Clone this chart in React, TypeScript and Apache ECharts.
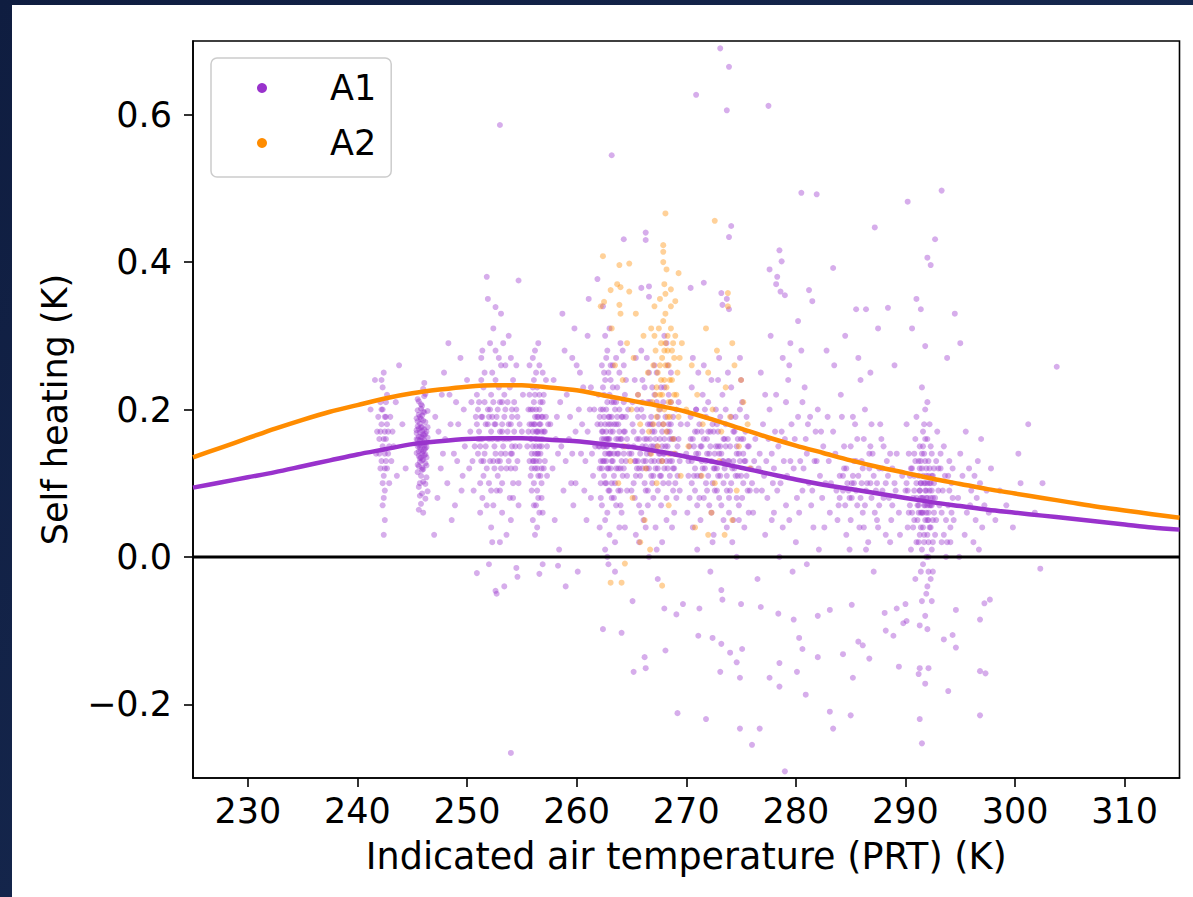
import React, { useEffect, useRef } from 'react';
import * as echarts from 'echarts';

const X_MIN = 225;
const X_MAX = 315;
const Y_MIN = -0.3;
const Y_MAX = 0.7;
const xTicks = [230, 240, 250, 260, 270, 280, 290, 300, 310];
const yTicks = [-0.2, 0, 0.2, 0.4, 0.6];
const X_NAME = 'Indicated air temperature (PRT) (K)';
const Y_NAME = 'Self heating (K)';

// fitted curves read at 2.5 K steps
const fitTemps = [225, 227.5, 230, 232.5, 235, 237.5, 240, 242.5, 245, 247.5, 250, 252.5, 255, 257.5, 260, 262.5, 265, 267.5, 270, 272.5, 275, 277.5, 280, 282.5, 285, 287.5, 290, 292.5, 295, 297.5, 300, 302.5, 305, 307.5, 310, 312.5, 315];
const a1Fit = [0.094, 0.101, 0.108, 0.115, 0.123, 0.131, 0.139, 0.146, 0.153, 0.157, 0.160, 0.161, 0.161, 0.159, 0.157, 0.153, 0.149, 0.143, 0.136, 0.129, 0.121, 0.113, 0.105, 0.098, 0.092, 0.086, 0.080, 0.074, 0.069, 0.064, 0.060, 0.056, 0.052, 0.048, 0.044, 0.040, 0.037];
const a2Fit = [0.135, 0.148, 0.161, 0.174, 0.186, 0.197, 0.206, 0.215, 0.222, 0.227, 0.231, 0.233, 0.233, 0.230, 0.226, 0.219, 0.212, 0.205, 0.197, 0.186, 0.174, 0.162, 0.151, 0.141, 0.131, 0.122, 0.114, 0.106, 0.099, 0.092, 0.086, 0.080, 0.074, 0.068, 0.063, 0.058, 0.053];

// A1 scatter, grouped by temperature band
const a1Band242: number[][] = [[242.1,0.17],[242.3,0.15],[242.5,0.19],[242.2,0.13],[242.6,0.21],[242.4,0.11],[242.0,0.16],[242.7,0.18],[242.3,0.23],[242.5,0.09],[242.2,0.20],[242.8,0.14],[242.4,0.25],[242.1,0.12],[242.6,0.16],[243.0,0.19],[242.9,0.10],[242.3,0.07],[242.5,0.14],[242.7,0.22],[241.6,0.24],[241.8,0.17],[243.3,0.15],[243.5,0.21],[244.1,0.18],[244.4,0.12],[243.8,0.26],[241.2,0.20],[242.5,0.05],[242.4,0.03],[242.0,0.14],[242.2,0.18],[242.4,0.16],[242.6,0.13],[242.8,0.17],[242.1,0.21],[242.3,0.10],[242.5,0.17],[242.7,0.12],[242.9,0.15],[242.2,0.24],[242.4,0.08],[242.6,0.19],[243.1,0.13],[241.9,0.19],[242.3,0.20],[242.5,0.12],[243.2,0.17],[241.7,0.14],[243.6,0.11]];
const a1Band246: number[][] = [[245.6,0.152],[245.9,0.171],[246.1,0.138],[245.4,0.160],[245.8,0.145],[246.2,0.183],[245.7,0.129],[246.0,0.166],[245.5,0.177],[246.3,0.149],[245.9,0.121],[245.6,0.193],[246.1,0.158],[245.8,0.187],[245.4,0.141],[246.0,0.132],[245.7,0.169],[246.4,0.162],[245.5,0.115],[245.9,0.205],[246.2,0.127],[245.6,0.174],[245.8,0.110],[246.1,0.196],[245.7,0.148],[246.0,0.102],[245.5,0.214],[246.3,0.135],[245.9,0.157],[245.6,0.095],[246.2,0.221],[245.8,0.163],[245.4,0.188],[246.0,0.143],[245.7,0.083],[246.1,0.236],[245.9,0.176],[245.5,0.125],[246.4,0.198],[245.8,0.072],[246.0,0.154],[245.6,0.137],[246.2,0.167],[245.7,0.181],[245.9,0.118],[246.1,0.146],[245.5,0.159],[245.8,0.201],[246.3,0.108],[245.6,0.064],[246.0,0.228],[245.7,0.134],[245.9,0.192],[246.4,0.089],[245.8,0.151],[246.1,0.173],[245.6,0.211],[246.2,0.099],[245.4,0.168],[245.9,0.140],[245.5,0.150],[245.7,0.158],[245.9,0.162],[246.1,0.151],[246.3,0.170],[245.6,0.143],[245.8,0.176],[246.0,0.185],[246.2,0.139],[245.4,0.172],[245.9,0.131],[246.1,0.165],[245.7,0.190],[246.3,0.155],[245.6,0.123],[246.0,0.119],[245.8,0.207],[246.2,0.147],[245.5,0.184],[246.4,0.176],[245.7,0.100],[246.0,0.197],[245.9,0.086],[246.1,0.218],[245.6,0.163],[246.2,0.079],[245.8,0.135],[246.3,0.124],[245.5,0.199],[246.0,0.060]];
const a1Band248: number[][] = [[247.1,0.19],[247.6,0.12],[248.0,0.16],[248.4,0.22],[247.3,0.08],[248.8,0.14],[249.2,0.18],[249.6,0.11],[247.9,0.25],[248.6,0.05],[249.0,0.21],[249.8,0.15],[247.4,0.17],[248.2,0.10],[249.4,0.27],[247.8,0.14],[248.9,0.07],[249.7,0.20],[250.0,0.24],[248.5,0.18],[247.0,0.03],[249.1,0.13],[248.3,0.29],[247.7,0.22],[249.5,0.09]];
const a1Band252: number[][] = [[251.2,0.16],[251.4,0.19],[251.3,0.13],[251.6,0.21],[251.1,0.17],[251.5,0.11],[251.3,0.24],[251.2,0.15],[251.7,0.18],[251.4,0.08],[251.0,0.20],[251.3,0.27],[251.6,0.14],[251.2,0.06],[251.5,0.23],[252.2,0.17],[252.4,0.13],[252.1,0.20],[252.5,0.15],[252.3,0.25],[252.0,0.10],[252.6,0.18],[252.2,0.22],[252.4,0.07],[252.3,0.16],[252.1,0.29],[252.5,0.12],[252.7,0.19],[252.2,0.04],[252.4,0.31],[252.9,0.16],[253.1,0.14],[253.0,0.21],[253.2,0.18],[252.8,0.11],[253.1,0.26],[253.3,0.15],[253.0,0.09],[252.9,0.23],[253.2,0.17],[253.0,0.02],[253.1,0.33],[253.4,0.19],[252.8,0.13],[253.2,0.06],[253.9,0.16],[254.1,0.20],[254.0,0.12],[253.8,0.18],[254.2,0.24],[254.1,0.14],[253.9,0.08],[254.3,0.17],[254.0,0.27],[254.2,0.10],[253.7,0.21],[254.4,0.15],[254.0,0.05],[254.1,0.19],[253.8,0.30],[250.7,0.15],[250.9,0.22],[251.8,0.12],[252.6,0.28],[253.5,0.20],[254.6,0.13],[254.8,0.18],[250.6,0.09],[251.9,0.35],[253.6,0.03],[252.0,-0.01],[253.4,-0.04],[251.8,0.38],[254.5,0.26],[252.7,0.09],[253.6,0.12],[251.9,0.18],[250.8,0.19],[254.7,0.07],[253.3,0.29],[250.3,0.17],[250.5,0.13],[250.9,0.18],[251.0,0.14],[251.1,0.21],[251.4,0.16],[251.5,0.13],[251.7,0.15],[251.9,0.20],[252.0,0.16],[252.1,0.13],[252.3,0.19],[252.4,0.21],[252.6,0.14],[252.7,0.16],[252.8,0.20],[253.0,0.17],[253.1,0.12],[253.3,0.16],[253.4,0.22],[253.5,0.14],[253.7,0.17],[253.8,0.13],[254.0,0.18],[254.1,0.15],[254.3,0.21],[254.4,0.12],[254.6,0.19],[254.8,0.15],[255.0,0.17],[251.2,0.10],[251.6,0.25],[252.2,0.09],[252.9,0.27],[253.2,0.10],[253.9,0.23],[254.2,0.08],[251.3,0.19],[252.5,0.18],[253.6,0.16],[254.5,0.20],[250.4,0.21],[251.8,0.07],[252.6,0.24],[253.0,0.13],[254.0,0.14],[251.4,0.28],[252.3,0.02],[253.5,0.26],[254.7,0.10],[250.2,0.12],[255.1,0.22],[252.0,0.19],[253.2,0.21],[251.0,0.16]];
const a1Band256: number[][] = [[255.8,0.16],[256.1,0.18],[256.4,0.14],[256.0,0.20],[256.6,0.15],[255.9,0.12],[256.3,0.17],[256.8,0.19],[256.2,0.22],[255.7,0.13],[256.5,0.11],[256.9,0.16],[256.1,0.24],[256.4,0.09],[256.7,0.21],[255.9,0.18],[256.2,0.14],[256.6,0.26],[256.3,0.07],[257.0,0.17],[256.0,0.15],[256.5,0.19],[256.8,0.12],[256.1,0.10],[256.4,0.23],[255.8,0.20],[256.7,0.16],[257.1,0.13],[256.2,0.18],[256.9,0.21],[256.3,0.16],[255.6,0.17],[256.6,0.06],[256.0,0.27],[256.5,0.14],[257.2,0.19],[256.1,0.13],[256.8,0.08],[256.4,0.17],[255.7,0.22],[256.2,0.03],[256.9,0.25],[256.3,0.20],[256.7,0.11],[257.3,0.15],[256.0,0.05],[256.5,0.29],[256.2,0.16],[255.9,0.09],[256.6,0.18],[255.5,0.15],[255.7,0.18],[255.9,0.14],[256.0,0.17],[256.1,0.21],[256.2,0.12],[256.3,0.15],[256.4,0.19],[256.5,0.16],[256.6,0.13],[256.7,0.18],[256.8,0.15],[256.9,0.19],[257.0,0.12],[257.1,0.17],[255.8,0.11],[256.0,0.23],[256.2,0.19],[256.4,0.12],[256.6,0.20],[256.8,0.10],[257.0,0.22],[255.6,0.20],[256.1,0.07],[256.3,0.25],[256.5,0.08],[256.7,0.14],[256.9,0.06],[257.2,0.24],[257.4,0.18],[256.2,0.28],[255.9,0.16],[256.5,0.17],[256.3,0.13],[256.8,0.17],[256.0,0.13],[257.3,0.11],[256.6,0.22],[256.4,0.04],[255.7,0.26]];
const a1Band259: number[][] = [[257.8,0.12],[258.2,0.19],[258.6,0.15],[259.1,0.22],[259.5,0.10],[259.9,0.17],[260.3,0.25],[260.8,0.13],[261.2,0.20],[258.0,0.05],[258.9,0.28],[259.7,0.07],[260.5,0.18],[261.0,0.30],[261.4,0.14],[258.4,0.01],[259.3,0.16],[260.1,-0.02],[260.7,0.09],[261.3,0.23],[257.9,0.24],[258.7,0.33],[259.6,0.27],[260.9,0.05],[261.5,0.11],[258.3,0.14],[260.2,0.20],[259.0,-0.04],[261.1,0.35],[259.8,0.31],[258.1,0.16],[258.5,0.21],[259.0,0.13],[259.4,0.19],[259.9,0.10],[260.4,0.14],[260.6,0.23],[261.0,0.17],[261.3,0.08],[261.6,0.20],[258.8,0.09],[259.6,0.14],[260.0,0.26],[261.7,0.15],[257.6,0.18]];
const a1Band263: number[][] = [[262.3,0.16],[262.6,0.14],[262.9,0.18],[263.1,0.12],[262.4,0.20],[262.8,0.15],[263.3,0.17],[262.5,0.11],[263.0,0.22],[262.7,0.13],[262.2,0.18],[263.4,0.15],[262.9,0.09],[262.6,0.24],[263.2,0.19],[262.4,0.13],[262.8,0.21],[263.5,0.10],[262.3,0.07],[263.1,0.26],[262.7,0.16],[262.5,0.19],[263.0,0.14],[262.9,0.12],[263.6,0.18],[262.1,0.15],[262.6,0.05],[263.3,0.23],[262.8,0.28],[263.2,0.08],[262.4,0.17],[263.7,0.14],[262.7,0.20],[263.0,0.03],[262.5,0.25],[263.4,0.11],[262.9,0.16],[262.2,0.10],[263.1,0.18],[262.6,0.30],[263.8,0.16],[264.1,0.13],[263.9,0.20],[264.3,0.17],[264.0,0.09],[264.4,0.22],[263.8,0.12],[264.2,0.15],[264.5,0.19],[264.1,0.06],[262.8,0.00],[263.5,-0.02],[262.4,0.34],[263.6,0.27],[264.3,0.26],[262.0,0.22],[262.3,0.26],[263.9,0.04],[264.6,0.11],[263.2,0.13],[262.5,0.15],[263.0,0.19],[262.7,0.10],[263.4,0.21],[262.9,0.25],[261.9,0.18],[264.0,0.16],[263.6,0.07],[262.1,0.12],[264.2,0.28],[262.0,0.15],[262.1,0.19],[262.2,0.13],[262.3,0.17],[262.4,0.15],[262.5,0.13],[262.6,0.18],[262.7,0.15],[262.8,0.12],[262.9,0.19],[263.0,0.16],[263.1,0.14],[263.2,0.21],[263.3,0.13],[263.4,0.18],[263.5,0.15],[263.6,0.12],[263.7,0.19],[263.8,0.14],[263.9,0.17],[264.0,0.12],[264.1,0.19],[264.2,0.11],[264.3,0.14],[264.4,0.17],[264.5,0.13],[264.6,0.16],[264.7,0.20],[264.8,0.14],[262.2,0.08],[262.5,0.22],[262.8,0.06],[263.1,0.24],[263.4,0.08],[263.7,0.23],[264.0,0.07],[264.3,0.21],[264.6,0.09],[262.3,0.12],[262.6,0.10],[262.9,0.14],[263.2,0.10],[263.5,0.20],[263.8,0.09],[264.1,0.16],[264.4,0.04],[262.4,0.23],[262.7,0.27],[263.0,0.09],[263.3,0.26],[263.6,0.16],[263.9,0.25],[264.2,0.19],[264.5,0.24],[262.1,0.04],[262.6,0.01],[263.0,0.31],[263.5,0.02],[264.0,0.29],[262.9,-0.01],[263.4,0.14],[262.7,0.17],[263.8,0.18],[262.5,0.16],[264.3,0.12],[263.1,0.17],[262.8,0.16],[263.6,0.21],[264.7,0.15],[262.2,0.20]];
const a1Band267: number[][] = [[265.2,0.15],[265.6,0.13],[266.0,0.17],[266.4,0.14],[266.8,0.19],[267.2,0.12],[267.6,0.16],[268.0,0.14],[268.4,0.18],[265.4,0.11],[265.9,0.20],[266.3,0.09],[266.7,0.16],[267.1,0.22],[267.5,0.13],[267.9,0.10],[268.3,0.15],[268.8,0.12],[265.1,0.18],[265.7,0.07],[266.2,0.23],[266.6,0.12],[267.0,0.15],[267.4,0.19],[267.8,0.17],[268.2,0.08],[268.6,0.21],[269.0,0.14],[265.3,0.24],[265.8,0.14],[266.1,0.05],[266.5,0.18],[266.9,0.10],[267.3,0.25],[267.7,0.11],[268.1,0.19],[268.5,0.13],[268.9,0.06],[269.3,0.16],[265.5,0.16],[266.0,0.12],[266.4,0.27],[266.8,0.13],[267.2,0.04],[267.6,0.20],[268.0,0.23],[268.4,0.10],[268.7,0.16],[269.1,0.20],[265.0,0.09],[265.6,0.19],[266.2,0.16],[266.7,0.21],[267.0,0.08],[267.5,0.14],[267.9,0.18],[268.3,0.26],[268.8,0.09],[269.2,0.11],[265.4,0.03],[266.3,0.15],[267.1,0.17],[267.8,0.02],[268.5,0.17],[269.4,0.13],[266.6,0.00],[267.4,-0.03],[265.9,0.28],[268.2,0.29],[266.0,0.21],[267.3,0.15],[268.6,0.14],[265.7,0.12],[266.9,0.17],[268.0,0.12],[265.3,0.13],[269.5,0.18],[266.5,0.09],[267.7,0.23],[265.0,0.14],[265.2,0.17],[265.4,0.13],[265.5,0.20],[265.7,0.16],[265.8,0.11],[266.0,0.15],[266.1,0.19],[266.3,0.13],[266.4,0.16],[266.5,0.21],[266.7,0.14],[266.8,0.11],[266.9,0.18],[267.1,0.13],[267.2,0.16],[267.4,0.12],[267.5,0.18],[267.6,0.14],[267.8,0.15],[267.9,0.21],[268.0,0.16],[268.2,0.13],[268.3,0.17],[268.5,0.11],[268.6,0.18],[268.7,0.13],[268.9,0.16],[269.0,0.10],[269.2,0.15],[265.3,0.08],[265.6,0.22],[265.9,0.06],[266.2,0.10],[266.6,0.25],[267.0,0.11],[267.3,0.21],[267.7,0.07],[268.1,0.15],[268.4,0.22],[268.8,0.19],[269.1,0.08],[265.1,0.21],[265.5,0.12],[266.0,0.24],[266.3,0.04],[266.7,0.18],[267.1,0.26],[267.4,0.09],[267.8,0.13],[268.2,0.05],[268.6,0.25],[268.9,0.12],[269.3,0.21],[265.4,0.27],[266.1,0.13],[266.8,0.15],[267.6,0.11],[268.3,0.12],[269.4,0.09],[265.7,0.02],[266.5,0.07],[267.3,0.01],[268.0,0.30],[268.7,0.04],[265.2,0.10],[266.9,0.23],[267.9,0.14],[268.5,0.16],[266.4,0.12]];
const a1Band273: number[][] = [[270.2,0.13],[270.6,0.16],[271.0,0.11],[271.4,0.15],[271.8,0.13],[272.2,0.17],[272.6,0.12],[273.0,0.14],[273.4,0.10],[273.8,0.16],[274.2,0.12],[274.6,0.14],[275.0,0.11],[275.4,0.13],[270.4,0.19],[270.8,0.09],[271.2,0.18],[271.6,0.08],[272.0,0.21],[272.4,0.10],[272.8,0.18],[273.2,0.07],[273.6,0.20],[274.0,0.09],[274.4,0.17],[274.8,0.07],[275.2,0.16],[275.6,0.09],[270.1,0.06],[270.5,0.23],[270.9,0.14],[271.3,0.05],[271.7,0.20],[272.1,0.14],[272.5,0.03],[272.9,0.24],[273.3,0.13],[273.7,0.04],[274.1,0.19],[274.5,0.11],[274.9,0.20],[275.3,0.04],[275.7,0.15],[270.3,0.15],[270.7,0.11],[271.1,0.25],[271.5,0.12],[271.9,0.16],[272.3,0.06],[272.7,0.15],[273.1,0.19],[273.5,0.12],[273.9,0.13],[274.3,0.05],[274.7,0.16],[275.1,0.08],[275.5,0.19],[275.9,0.12],[271.0,0.01],[272.2,-0.02],[273.0,0.27],[274.1,0.23],[275.0,0.24],[270.6,0.27],[272.6,0.09],[273.4,0.16],[271.8,0.10],[274.6,0.00],[276.0,0.10],[276.3,0.16],[276.1,0.06],[271.4,0.17],[272.9,0.11],[273.9,0.08],[272.4,0.18],[270.9,0.20],[274.8,0.14],[273.6,0.15],[270.0,0.14],[270.2,0.11],[270.4,0.16],[270.5,0.13],[270.7,0.15],[270.8,0.12],[271.0,0.17],[271.1,0.14],[271.3,0.11],[271.4,0.13],[271.6,0.16],[271.7,0.12],[271.9,0.14],[272.0,0.11],[272.2,0.15],[272.3,0.13],[272.5,0.17],[272.6,0.14],[272.8,0.12],[272.9,0.15],[273.1,0.11],[273.2,0.14],[273.4,0.13],[273.5,0.16],[273.7,0.11],[273.8,0.13],[274.0,0.15],[274.1,0.10],[274.3,0.13],[274.4,0.12],[274.6,0.15],[274.7,0.11],[274.9,0.13],[275.0,0.16],[275.2,0.10],[275.3,0.13],[275.5,0.11],[275.6,0.15],[275.8,0.09],[270.3,0.08],[270.9,0.20],[271.2,0.08],[271.8,0.19],[272.1,0.07],[272.7,0.20],[273.0,0.08],[273.6,0.18],[273.9,0.06],[274.5,0.19],[274.8,0.05],[275.4,0.17],[270.6,0.04],[271.5,0.22],[272.4,0.02],[273.3,0.22],[274.2,0.02],[275.1,0.21],[270.1,0.18],[271.0,0.07],[271.9,0.09],[272.8,0.09],[273.7,0.09],[274.6,0.08],[275.7,0.06],[270.5,0.10],[271.3,0.15],[272.0,0.17],[272.9,0.17],[273.4,0.05],[274.3,0.17],[275.2,0.14],[276.2,0.13],[276.4,0.09],[271.6,0.26],[272.3,0.24],[273.8,0.25],[274.9,0.27],[270.8,0.17],[272.5,0.12],[273.1,0.15]];
const a1Band279: number[][] = [[276.6,0.12],[277.0,0.18],[277.4,0.08],[277.8,0.14],[278.2,0.22],[278.6,0.10],[279.0,0.16],[279.4,0.05],[279.8,0.12],[280.2,0.19],[280.6,0.09],[281.0,0.14],[281.4,0.07],[281.8,0.17],[282.2,0.11],[276.8,0.25],[277.2,0.03],[277.6,0.20],[278.0,0.06],[278.4,0.15],[278.8,0.27],[279.2,0.11],[279.6,0.18],[280.0,0.02],[280.4,0.13],[280.8,0.23],[281.2,0.10],[281.6,0.04],[282.0,0.20],[282.4,0.08],[276.9,0.09],[277.7,0.30],[278.5,0.00],[279.3,0.24],[280.1,0.08],[280.9,0.16],[281.7,0.13],[282.5,0.15],[277.3,0.13],[278.1,0.17],[279.7,-0.02],[280.5,0.28],[281.3,0.19],[276.5,-0.03],[278.9,0.13],[282.6,0.04],[279.1,0.21],[277.9,0.10],[276.7,0.14],[277.1,0.11],[277.5,0.16],[278.0,0.12],[278.3,0.09],[278.7,0.17],[279.1,0.07],[279.5,0.13],[279.9,0.16],[280.3,0.06],[280.7,0.12],[281.1,0.18],[281.5,0.09],[281.9,0.13],[282.3,0.17],[282.7,0.10],[283.1,0.06],[277.2,0.22],[278.8,0.04],[280.6,0.21],[282.1,0.01],[279.4,0.26],[281.0,-0.01],[277.8,0.05],[282.9,0.19]];
const a1Band286: number[][] = [[283.2,0.10],[283.6,0.14],[284.0,0.08],[284.4,0.12],[284.8,0.09],[285.2,0.11],[285.6,0.07],[286.0,0.13],[286.4,0.09],[286.8,0.10],[287.2,0.06],[287.6,0.12],[288.0,0.08],[288.4,0.11],[288.8,0.07],[283.4,0.17],[283.8,0.05],[284.2,0.19],[284.6,0.03],[285.0,0.15],[285.4,0.18],[285.8,0.04],[286.2,0.16],[286.6,0.02],[287.0,0.14],[287.4,0.10],[287.8,0.16],[288.2,0.03],[288.6,0.14],[289.0,0.10],[283.0,0.13],[284.1,0.22],[285.1,0.08],[285.5,0.13],[286.1,0.06],[286.9,0.18],[287.5,0.04],[288.3,0.13],[284.9,0.01],[286.3,0.20],[287.9,0.09],[283.7,0.09],[285.3,0.10],[284.5,0.07],[286.7,0.12],[288.7,0.05],[285.9,0.24],[287.1,-0.02],[283.5,0.26],[284.3,0.11],[284.0,0.11],[284.3,0.09],[284.6,0.12],[284.9,0.08],[285.1,0.10],[285.3,0.13],[285.5,0.09],[285.7,0.11],[285.9,0.08],[286.1,0.12],[286.3,0.07],[286.5,0.10],[286.7,0.14],[286.9,0.08],[287.1,0.11],[287.3,0.09],[287.6,0.07],[287.9,0.12],[288.2,0.10],[288.5,0.08],[288.8,0.12],[289.1,0.09],[289.4,0.06],[289.7,0.11],[284.4,0.15],[285.0,0.05],[285.6,0.16],[286.2,0.04],[286.8,0.15],[287.4,0.05],[288.0,0.15],[288.6,0.02],[289.2,0.14],[283.9,0.07],[285.2,0.19],[286.4,0.01],[287.7,0.18],[289.5,0.03],[284.7,0.10],[286.0,0.10]];
const a1Band292: number[][] = [[290.0,0.09],[290.4,0.07],[290.8,0.11],[291.2,0.06],[291.6,0.08],[292.0,0.05],[292.4,0.09],[291.8,0.07],[291.4,0.10],[292.2,0.04],[291.0,0.08],[291.9,0.12],[292.1,0.02],[291.5,0.14],[292.3,0.07],[291.7,0.03],[291.3,0.09],[292.5,0.11],[291.1,0.05],[291.9,0.00],[292.0,0.08],[291.6,0.15],[292.2,0.10],[291.4,0.04],[291.8,0.13],[290.6,0.12],[290.2,0.04],[290.9,0.16],[291.2,0.02],[292.6,0.06],[292.8,0.13],[292.1,-0.02],[291.7,0.18],[291.5,0.06],[292.4,0.01],[291.9,0.09],[291.3,0.12],[292.0,-0.04],[291.8,0.20],[290.7,0.08],[290.3,0.14],[292.7,0.03],[293.0,0.09],[293.3,0.06],[293.6,0.11],[293.9,0.07],[294.1,0.04],[294.2,0.10],[294.0,0.13],[293.8,0.02],[294.3,0.08],[293.5,0.15],[292.9,0.17],[290.5,0.01],[291.0,0.19],[291.6,-0.01],[292.3,0.15],[290.1,0.18],[291.9,0.06],[292.1,0.11],[291.4,0.08],[292.5,0.05],[291.7,0.10],[291.2,0.13],[292.2,0.07],[290.8,0.05],[293.2,0.12],[294.4,0.05],[291.5,0.23],[292.0,0.21],[292.4,-0.06],[291.8,-0.08],[290.9,-0.03],[293.7,0.00],[291.2,0.07],[291.3,0.09],[291.4,0.06],[291.5,0.08],[291.6,0.11],[291.7,0.07],[291.8,0.05],[291.9,0.08],[292.0,0.10],[292.1,0.06],[292.2,0.09],[292.3,0.04],[292.4,0.07],[292.5,0.08],[292.6,0.10],[291.3,0.03],[291.5,0.12],[291.7,0.02],[291.9,0.11],[292.1,0.13],[292.3,0.10],[292.5,0.02],[291.4,0.13],[291.6,0.04],[291.8,0.10],[292.0,0.03],[292.2,0.12],[292.4,0.11],[291.2,0.11],[291.5,0.01],[291.8,0.16],[292.1,0.00],[292.4,0.14],[292.7,0.08],[291.1,0.07],[291.4,-0.02],[291.7,0.14],[292.0,0.16],[292.3,-0.03],[292.6,0.12],[290.2,0.09],[290.4,0.11],[290.6,0.06],[290.8,0.09],[291.0,0.10],[290.3,0.06],[290.5,0.12],[290.7,0.04],[290.9,0.13],[293.1,0.07],[293.4,0.09],[293.7,0.05],[294.0,0.09],[294.2,0.06],[293.9,0.11],[294.1,0.02],[293.5,0.03],[293.2,0.14],[291.6,0.17],[292.2,0.18],[291.9,-0.05],[292.5,-0.02],[291.0,0.02],[291.3,0.15],[292.8,0.05],[290.1,0.10],[293.0,0.12],[291.6,0.06],[292.0,0.07],[291.8,0.09],[292.3,0.08],[291.4,0.10],[292.1,0.05],[290.8,0.14],[293.3,0.02],[294.3,0.12]];
const a1Band296: number[][] = [[294.8,0.08],[295.2,0.11],[295.6,0.06],[296.0,0.09],[296.4,0.05],[296.8,0.10],[297.2,0.07],[295.0,0.14],[295.4,0.03],[295.8,0.12],[296.2,0.02],[296.6,0.13],[297.0,0.04],[297.4,0.09],[294.9,0.00],[296.5,0.08],[296.9,0.16],[297.6,0.06],[295.5,0.17],[296.3,0.11],[297.8,0.12],[298.2,0.05],[298.6,0.09],[299.2,0.07],[300.5,0.10],[301.8,0.06],[296.7,0.01],[295.9,0.07],[303.8,0.258],[300.3,0.14],[301.2,0.18],[299.8,0.04],[302.5,0.10]];
const a1High: number[][] = [[273.1,0.69],[273.9,0.665],[270.9,0.627],[273.7,0.606],[277.5,0.612],[253.0,0.586],[263.2,0.545],[280.5,0.494],[281.9,0.492],[293.3,0.497],[290.2,0.482],[287.2,0.447],[292.7,0.431],[292.0,0.406],[292.3,0.396],[274.1,0.449],[273.9,0.434],[278.5,0.416],[278.7,0.401],[277.6,0.39],[278.3,0.38],[278.2,0.37],[278.6,0.36],[279.0,0.355],[283.4,0.392],[281.2,0.362],[291.0,0.35],[266.3,0.44],[266.3,0.43],[264.3,0.431],[261.9,0.377],[254.7,0.375],[252.6,0.339],[265.9,0.365],[266.6,0.367],[266.6,0.353],[270.4,0.365],[271.6,0.372],[273.2,0.358],[273.7,0.35],[273.3,0.342],[273.9,0.336],[285.5,0.336],[286.4,0.336],[288.4,0.338],[291.4,0.336],[285.7,0.27],[291.8,0.286],[295.0,0.29],[281.5,0.347],[284.5,0.30],[289.0,0.26],[287.5,0.31],[293.8,0.27],[280.2,0.32],[282.8,0.28],[290.6,0.31],[294.5,0.33],[279.5,0.29],[286.8,0.25]];
const a1Low: number[][] = [[254.0,-0.266],[279.0,-0.291],[276.0,-0.255],[274.9,-0.233],[276.7,-0.233],[291.5,-0.253],[283.1,-0.21],[285.0,-0.215],[283.4,-0.233],[291.3,-0.22],[296.8,-0.215],[269.2,-0.212],[271.8,-0.22],[293.9,-0.182],[280.9,-0.187],[278.5,-0.176],[285.2,-0.164],[291.8,-0.172],[297.3,-0.158],[289.4,-0.149],[291.3,-0.151],[292.1,-0.151],[291.2,-0.159],[280.1,-0.156],[278.5,-0.144],[274.9,-0.164],[277.6,-0.164],[273.1,-0.156],[265.2,-0.156],[266.3,-0.151],[266.2,-0.136],[268.1,-0.127],[262.4,-0.098],[264.1,-0.103],[271.1,-0.107],[272.4,-0.11],[273.2,-0.118],[274.0,-0.13],[274.6,-0.143],[275.1,-0.125],[282.0,-0.136],[284.3,-0.132],[285.7,-0.115],[286.1,-0.12],[286.7,-0.138],[288.9,-0.107],[288.2,-0.10],[280.3,-0.11],[280.6,-0.125],[293.5,-0.112],[294.6,-0.123],[296.8,-0.085],[296.8,-0.155],[294.3,-0.106],[289.8,-0.09],[290.1,-0.087],[291.3,-0.093],[292.0,-0.098],[302.3,-0.016],[250.9,-0.022],[252.6,-0.046],[252.7,-0.05],[254.5,-0.015],[254.6,-0.027],[256.6,-0.023],[258.3,-0.012],[256.9,-0.01],[265.1,-0.06],[268.0,-0.07],[269.1,-0.078],[271.2,-0.07],[269.7,-0.064],[273.3,-0.058],[273.2,-0.045],[275.0,-0.064],[276.8,-0.068],[278.4,-0.077],[279.8,-0.085],[282.0,-0.08],[283.1,-0.072],[285.1,-0.065],[288.1,-0.076],[289.2,-0.07],[290.0,-0.064],[291.5,-0.06],[294.6,-0.072],[297.2,-0.063],[297.7,-0.058]];

// A2 scatter
const a2Core: number[][] = [[266.5,0.25],[267.2,0.28],[267.8,0.22],[268.3,0.30],[268.7,0.24],[267.5,0.20],[268.1,0.26],[267.9,0.32],[268.5,0.19],[267.3,0.23],[268.9,0.27],[267.0,0.18],[268.4,0.21],[267.7,0.29],[268.2,0.17],[267.6,0.26],[269.1,0.22],[266.8,0.31],[268.0,0.24],[268.6,0.34],[267.4,0.15],[269.3,0.19],[266.9,0.21],[268.8,0.16],[267.1,0.34],[268.3,0.28],[267.8,0.13],[268.0,0.37],[266.6,0.17],[269.0,0.30],[267.4,0.25],[267.6,0.22],[267.8,0.27],[268.0,0.20],[268.2,0.23],[268.4,0.26],[268.6,0.21],[268.8,0.29],[267.5,0.31],[267.9,0.18],[268.1,0.29],[268.5,0.24],[267.3,0.19],[267.7,0.24],[268.3,0.19],[268.7,0.28],[267.2,0.22],[268.9,0.22],[267.0,0.26],[269.2,0.25],[268.1,0.33],[267.6,0.35],[268.4,0.14],[267.9,0.40],[268.2,0.39],[266.8,0.14],[269.4,0.27],[268.6,0.31],[267.1,0.30],[268.0,0.28]];
const a2Right: number[][] = [[271.0,0.22],[271.5,0.18],[272.0,0.25],[272.4,0.20],[272.8,0.28],[273.2,0.17],[273.6,0.23],[274.0,0.19],[274.4,0.26],[274.8,0.15],[275.2,0.21],[275.6,0.18],[271.8,0.31],[273.0,0.13],[274.2,0.29],[275.0,0.24],[272.6,0.10],[273.8,0.34],[270.5,0.26],[270.0,0.20],[269.6,0.29],[270.2,0.15]];
const a2Left: number[][] = [[264.2,0.24],[264.6,0.29],[265.0,0.20],[265.4,0.33],[265.8,0.18],[264.8,0.36],[265.2,0.27],[264.4,0.15],[265.6,0.22],[266.1,0.30],[263.5,0.26],[263.2,0.31],[264.0,0.33],[266.3,0.12]];
const a2Sparse: number[][] = [[265.1,0.08],[266.2,0.05],[267.3,0.10],[268.4,0.07],[269.5,0.11],[270.8,0.04],[272.3,0.06],[273.5,0.03],[274.6,0.09],[275.8,0.12],[263.8,0.10],[264.9,0.13],[266.7,0.01],[268.9,0.14],[271.4,0.11],[263.1,-0.035],[264.1,-0.035],[267.8,-0.039],[264.4,-0.009],[265.8,0.02],[272.0,0.03],[274.2,0.05]];
const a2High: number[][] = [[268.1,0.466],[272.6,0.456],[267.9,0.423],[267.9,0.414],[262.4,0.408],[263.9,0.396],[264.8,0.398],[269.3,0.385],[263.7,0.37],[264.0,0.366],[263.1,0.362],[268.6,0.363],[268.1,0.357],[269.0,0.347],[262.2,0.34],[262.5,0.346],[263.9,0.342],[273.8,0.358]];

const A1_COLOR = '#9932CC';
const A2_COLOR = '#FF8C00';
const FONT = "'DejaVu Sans', sans-serif";

const a1Points = [
  ...a1Band242, ...a1Band246, ...a1Band248, ...a1Band252, ...a1Band256, ...a1Band259,
  ...a1Band263, ...a1Band267, ...a1Band273, ...a1Band279, ...a1Band286, ...a1Band292,
  ...a1Band296, ...a1High, ...a1Low,
];
const a2Points = [...a2Core, ...a2Right, ...a2Left, ...a2Sparse, ...a2High];

const fmtY = (v: number) => v.toFixed(1).replace('-', '\u2212');

export default function App() {
  const ref = useRef<HTMLDivElement>(null);
  useEffect(() => {
    if (!ref.current) return;
    const chart = echarts.init(ref.current, null, { renderer: 'svg' });
    chart.setOption({
      animation: false,
      backgroundColor: 'transparent',
      textStyle: { fontFamily: FONT },
      grid: {
        left: 193, top: 41, right: 13.5, bottom: 119,
        show: true, borderColor: '#000', borderWidth: 1.6, backgroundColor: 'transparent',
      },
      legend: {
        left: 211, top: 58, orient: 'vertical',
        padding: [10, 15, 14, 46],
        itemWidth: 10, itemHeight: 10, itemGap: 15,
        borderColor: '#cccccc', borderWidth: 1.5, borderRadius: 6,
        backgroundColor: 'rgba(255,255,255,0.85)',
        textStyle: { fontSize: 35, color: '#000', fontFamily: FONT, lineHeight: 40, padding: [0, 0, 0, 58] },
        data: [
          { name: 'A1', icon: 'circle', itemStyle: { color: A1_COLOR, opacity: 1 } },
          { name: 'A2', icon: 'circle', itemStyle: { color: A2_COLOR, opacity: 1 } },
        ],
      },
      xAxis: {
        type: 'value', min: X_MIN, max: X_MAX,
        name: X_NAME, nameLocation: 'middle', nameGap: 60,
        nameTextStyle: { fontSize: 36.5, color: '#000', fontFamily: FONT, lineHeight: 37 },
        axisLine: { show: true, onZero: false, lineStyle: { color: '#000', width: 1.6 } },
        axisTick: { show: true, customValues: xTicks, length: 9, lineStyle: { color: '#000', width: 1.6 } },
        axisLabel: { customValues: xTicks, fontSize: 35, color: '#000', fontFamily: FONT, margin: 15, lineHeight: 35 },
        splitLine: { show: false },
      },
      yAxis: {
        type: 'value', min: Y_MIN, max: Y_MAX,
        name: Y_NAME, nameLocation: 'middle', nameGap: 121, nameRotate: 90,
        nameTextStyle: { fontSize: 35, color: '#000', fontFamily: FONT, lineHeight: 35 },
        axisLine: { show: true, onZero: false, lineStyle: { color: '#000', width: 1.6 } },
        axisTick: { show: true, customValues: yTicks, length: 9, lineStyle: { color: '#000', width: 1.6 } },
        axisLabel: { customValues: yTicks, fontSize: 35, color: '#000', fontFamily: FONT, margin: 21, formatter: fmtY },
        splitLine: { show: false },
      },
      series: [
        {
          name: 'A1', type: 'scatter', data: a1Points, symbol: 'circle', symbolSize: 6,
          itemStyle: { color: A1_COLOR, opacity: 0.4 },
        },
        {
          name: 'A2', type: 'scatter', data: a2Points, symbol: 'circle', symbolSize: 6,
          itemStyle: { color: A2_COLOR, opacity: 0.4 },
        },
        {
          name: 'zero', type: 'line', data: [[X_MIN, 0], [X_MAX, 0]], symbol: 'none',
          lineStyle: { color: '#000', width: 3 }, silent: true,
        },
        {
          name: 'A1 fit', type: 'line', data: fitTemps.map((t, i) => [t, a1Fit[i]]), symbol: 'none', smooth: 0.3,
          lineStyle: { color: A1_COLOR, width: 4.5 }, silent: true,
        },
        {
          name: 'A2 fit', type: 'line', data: fitTemps.map((t, i) => [t, a2Fit[i]]), symbol: 'none', smooth: 0.3,
          lineStyle: { color: A2_COLOR, width: 4.5 }, silent: true,
        },
      ],
    });
    return () => chart.dispose();
  }, []);
  return (
    <div style={{ position: 'fixed', left: 0, top: 0, width: 1193, height: 897, background: 'linear-gradient(135deg, #0f1d40 0%, #16284f 60%, #22385f 100%)' }}>
      <div style={{ position: 'absolute', left: 12, top: 5, right: 0, bottom: 0, background: '#ffffff' }} />
      <div ref={ref} style={{ position: 'absolute', left: 0, top: 0, width: 1193, height: 897 }} />
    </div>
  );
}
